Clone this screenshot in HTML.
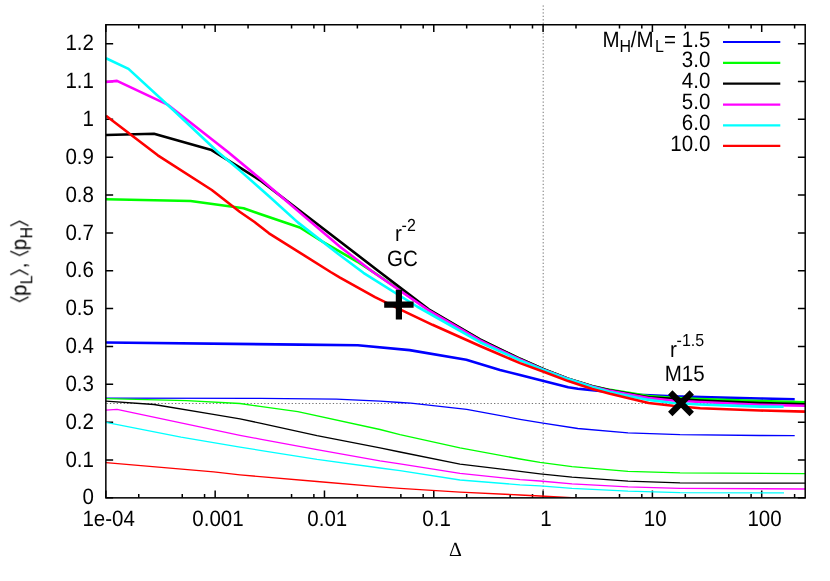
<!DOCTYPE html>
<html><head><meta charset="utf-8"><title>plot</title>
<style>html,body{margin:0;padding:0;background:#fff;overflow:hidden}body{width:830px;height:581px;font-family:"Liberation Sans",sans-serif}</style>
</head><body>
<svg width="830" height="581" viewBox="0 0 830 581" style="display:block;font-family:'Liberation Sans',sans-serif;font-size:20px">
<rect width="830" height="581" fill="#fff"/>
<g stroke="#000" stroke-width="0.9" stroke-opacity="0.62" stroke-dasharray="1.3 2.13" fill="none">
<path d="M543.2 5.43V497.85"/>
<path d="M106.45 403.5H805.20"/>
</g>
<path d="M105.85 497.85h7.3M805.2 497.85h-7.3M105.85 460.00h7.3M805.2 460.00h-7.3M105.85 422.15h7.3M805.2 422.15h-7.3M105.85 384.31h7.3M805.2 384.31h-7.3M105.85 346.46h7.3M805.2 346.46h-7.3M105.85 308.61h7.3M805.2 308.61h-7.3M105.85 270.76h7.3M805.2 270.76h-7.3M105.85 232.91h7.3M805.2 232.91h-7.3M105.85 195.07h7.3M805.2 195.07h-7.3M105.85 157.22h7.3M805.2 157.22h-7.3M105.85 119.37h7.3M805.2 119.37h-7.3M105.85 81.52h7.3M805.2 81.52h-7.3M105.85 43.67h7.3M805.2 43.67h-7.3M105.85 497.85v-7.3M105.85 24.75v7.3M138.76 497.85v-3.8M138.76 24.75v3.8M182.25 497.85v-3.8M182.25 24.75v3.8M204.57 497.85v-3.8M204.57 24.75v3.8M215.16 497.85v-7.3M215.16 24.75v7.3M248.06 497.85v-3.8M248.06 24.75v3.8M291.56 497.85v-3.8M291.56 24.75v3.8M313.87 497.85v-3.8M313.87 24.75v3.8M324.47 497.85v-7.3M324.47 24.75v7.3M357.37 497.85v-3.8M357.37 24.75v3.8M400.87 497.85v-3.8M400.87 24.75v3.8M423.18 497.85v-3.8M423.18 24.75v3.8M433.78 497.85v-7.3M433.78 24.75v7.3M466.68 497.85v-3.8M466.68 24.75v3.8M510.18 497.85v-3.8M510.18 24.75v3.8M532.49 497.85v-3.8M532.49 24.75v3.8M543.08 497.85v-7.3M543.08 24.75v7.3M575.99 497.85v-3.8M575.99 24.75v3.8M619.49 497.85v-3.8M619.49 24.75v3.8M641.80 497.85v-3.8M641.80 24.75v3.8M652.39 497.85v-7.3M652.39 24.75v7.3M685.30 497.85v-3.8M685.30 24.75v3.8M728.80 497.85v-3.8M728.80 24.75v3.8M751.11 497.85v-3.8M751.11 24.75v3.8M761.70 497.85v-7.3M761.70 24.75v7.3M794.61 497.85v-3.8M794.61 24.75v3.8" stroke="#000" stroke-width="1.5" fill="none"/>
<clipPath id="c"><rect x="105.85" y="24.75" width="699.35" height="473.1"/></clipPath>
<g fill="none" stroke-linejoin="round" stroke-linecap="butt" clip-path="url(#c)">
<polyline points="106.0,342.5 300.0,344.6 357.8,345.3 409.6,350.1 466.3,359.8 500.0,369.9 520.0,375.1 543.6,381.0 568.2,387.2 577.8,388.7 594.7,390.4 639.0,394.8 672.7,396.4 760.0,398.5 794.7,399.2" stroke="#0000ff" stroke-width="2.6"/>
<polyline points="106.0,398.1 260.0,398.3 336.4,399.1 380.0,401.2 400.0,402.5 410.8,403.1 466.7,409.3 520.0,419.3 543.0,423.1 577.8,428.5 628.0,432.8 680.0,434.7 760.0,435.5 794.7,435.7" stroke="#0000ff" stroke-width="1.3"/>
<polyline points="106.0,199.2 190.6,201.0 243.6,208.3 260.0,214.0 299.8,227.5 322.9,241.9 357.0,261.5 373.0,271.9 428.7,309.8 480.0,339.6 500.0,349.4 520.0,358.8 543.6,369.2 568.2,378.8 592.3,386.1 610.0,389.9 648.6,396.0 672.7,397.7 700.0,399.0 760.0,401.0 805.2,402.3" stroke="#00ff00" stroke-width="2.6"/>
<polyline points="106.0,398.7 186.7,400.6 240.0,403.5 260.0,406.4 297.8,411.6 380.0,429.5 400.0,434.7 460.0,447.8 520.0,459.0 540.0,462.3 572.0,466.7 628.0,471.3 680.0,472.9 805.2,473.7" stroke="#00ff00" stroke-width="1.3"/>
<polyline points="106.0,135.0 154.0,133.8 211.5,150.1 240.0,167.7 260.0,180.3 309.4,218.0 379.7,272.0 428.7,309.4 480.0,339.3 500.0,349.2 520.0,358.8 543.6,369.2 568.2,378.7 592.3,386.2 610.0,390.2 648.6,397.2 672.7,398.9 700.0,400.5 760.0,403.0 805.2,404.3" stroke="#000000" stroke-width="2.6"/>
<polyline points="106.0,401.2 154.0,404.5 211.8,414.1 240.0,418.9 260.0,423.1 317.0,435.6 380.0,447.8 400.0,452.0 460.0,464.2 520.0,471.3 540.0,473.8 572.0,477.1 628.0,481.1 680.0,482.9 805.2,483.1" stroke="#000000" stroke-width="1.3"/>
<polyline points="106.0,82.0 117.0,80.9 167.5,104.6 228.0,152.0 260.0,178.6 340.0,246.7 373.0,272.0 428.7,310.4 480.0,340.3 500.0,350.1 520.0,359.5 543.6,369.7 568.2,378.9 592.3,386.5 610.0,390.9 648.6,398.1 672.7,400.5 700.0,402.0 760.0,404.8 805.2,405.8" stroke="#ff00ff" stroke-width="2.6"/>
<polyline points="106.0,410.2 117.0,409.3 240.0,435.3 260.0,439.1 317.0,449.7 380.0,460.9 400.0,463.8 460.0,473.3 520.0,479.6 540.0,481.0 572.0,483.8 628.0,486.9 680.0,488.3 805.2,489.0" stroke="#ff00ff" stroke-width="1.3"/>
<polyline points="106.0,58.3 128.5,68.9 173.2,110.0 217.6,151.8 240.0,170.6 269.0,196.2 297.8,222.4 340.0,255.3 363.4,272.8 417.0,306.5 480.0,342.2 500.0,351.4 520.0,360.4 543.6,370.0 568.2,379.1 592.3,386.9 610.0,391.9 648.6,399.9 672.7,403.0 700.0,404.5 760.0,406.6 783.6,406.7" stroke="#00ffff" stroke-width="2.6"/>
<polyline points="106.0,422.4 181.0,437.2 240.0,447.2 260.0,450.3 317.0,459.4 380.0,468.0 400.0,470.6 460.0,480.0 520.0,484.8 540.0,485.8 572.0,488.3 628.0,491.2 680.0,492.7 784.0,492.8" stroke="#00ffff" stroke-width="1.3"/>
<polyline points="106.0,115.8 157.8,155.3 211.8,190.0 240.0,212.0 254.2,221.8 269.0,233.3 330.6,272.0 340.0,277.6 375.0,297.2 400.0,309.3 432.5,324.8 480.0,346.0 494.0,352.0 520.0,363.1 543.6,371.7 568.2,381.1 592.3,389.0 610.0,393.8 648.6,403.0 672.7,405.8 700.2,408.2 760.0,410.5 805.2,411.6" stroke="#ff0000" stroke-width="2.6"/>
<polyline points="106.0,462.6 213.7,471.9 240.0,474.8 260.0,476.6 317.0,481.5 380.0,486.8 400.0,488.3 460.0,492.1 520.0,495.0 540.0,496.0 576.0,497.8" stroke="#ff0000" stroke-width="1.3"/>
</g>
<rect x="105.85" y="24.75" width="699.35" height="473.10" stroke="#000" stroke-width="1.5" fill="none"/>
<g fill="#000" opacity="0.999" style="text-rendering:geometricPrecision;font-size:22.3px">
<text transform="translate(93.90 504.45) scale(0.92 1)" text-anchor="end">0</text>
<text transform="translate(93.90 466.60) scale(0.92 1)" text-anchor="end">0.1</text>
<text transform="translate(93.90 428.75) scale(0.92 1)" text-anchor="end">0.2</text>
<text transform="translate(93.90 390.91) scale(0.92 1)" text-anchor="end">0.3</text>
<text transform="translate(93.90 353.06) scale(0.92 1)" text-anchor="end">0.4</text>
<text transform="translate(93.90 315.21) scale(0.92 1)" text-anchor="end">0.5</text>
<text transform="translate(93.90 277.36) scale(0.92 1)" text-anchor="end">0.6</text>
<text transform="translate(93.90 239.51) scale(0.92 1)" text-anchor="end">0.7</text>
<text transform="translate(93.90 201.67) scale(0.92 1)" text-anchor="end">0.8</text>
<text transform="translate(93.90 163.82) scale(0.92 1)" text-anchor="end">0.9</text>
<text transform="translate(93.90 125.97) scale(0.92 1)" text-anchor="end">1</text>
<text transform="translate(93.90 88.12) scale(0.92 1)" text-anchor="end">1.1</text>
<text transform="translate(93.90 50.27) scale(0.92 1)" text-anchor="end">1.2</text>
<text transform="translate(108.65 525.90) scale(0.92 1)" text-anchor="middle">1e-04</text>
<text transform="translate(217.96 525.90) scale(0.92 1)" text-anchor="middle">0.001</text>
<text transform="translate(327.27 525.90) scale(0.92 1)" text-anchor="middle">0.01</text>
<text transform="translate(436.58 525.90) scale(0.92 1)" text-anchor="middle">0.1</text>
<text transform="translate(545.88 525.90) scale(0.92 1)" text-anchor="middle">1</text>
<text transform="translate(655.19 525.90) scale(0.92 1)" text-anchor="middle">10</text>
<text transform="translate(764.50 525.90) scale(0.92 1)" text-anchor="middle">100</text>
<text x="455.4" y="556.4" text-anchor="middle" style="font-family:'Liberation Serif',serif;font-size:20px">&#916;</text>
<path d="M723 42H780.3" stroke="#0000ff" stroke-width="2.2"/>
<text transform="translate(602.40 46.60) scale(0.92 1)" text-anchor="start">M</text>
<text transform="translate(619.60 52.00) scale(0.92 1)" text-anchor="start" font-size="17.4">H</text>
<text transform="translate(630.80 46.60) scale(0.92 1)" text-anchor="start">/M</text>
<text transform="translate(654.90 52.00) scale(0.92 1)" text-anchor="start" font-size="17.4">L</text>
<text transform="translate(710.30 46.60) scale(0.92 1)" text-anchor="end">= 1.5</text>
<path d="M723 62.8H780.3" stroke="#00ff00" stroke-width="2.2"/>
<text transform="translate(710.30 67.40) scale(0.92 1)" text-anchor="end">3.0</text>
<path d="M723 83.6H780.3" stroke="#000000" stroke-width="2.2"/>
<text transform="translate(710.30 88.20) scale(0.92 1)" text-anchor="end">4.0</text>
<path d="M723 104.6H780.3" stroke="#ff00ff" stroke-width="2.2"/>
<text transform="translate(710.30 109.20) scale(0.92 1)" text-anchor="end">5.0</text>
<path d="M723 125.4H780.3" stroke="#00ffff" stroke-width="2.2"/>
<text transform="translate(710.30 130.00) scale(0.92 1)" text-anchor="end">6.0</text>
<path d="M723 145.9H780.3" stroke="#ff0000" stroke-width="2.2"/>
<text transform="translate(710.30 150.50) scale(0.92 1)" text-anchor="end">10.0</text>
<text transform="translate(395.00 241.20) scale(0.92 1)" text-anchor="start">r</text>
<text transform="translate(401.60 230.50) scale(0.92 1)" text-anchor="start" font-size="17.4">-2</text>
<text transform="translate(402.50 265.70) scale(0.92 1)" text-anchor="middle">GC</text>
<text transform="translate(670.00 357.00) scale(0.92 1)" text-anchor="start">r</text>
<text transform="translate(676.60 346.30) scale(0.92 1)" text-anchor="start" font-size="17.4">-1.5</text>
<text transform="translate(684.70 380.70) scale(0.92 1)" text-anchor="middle">M15</text>
<path d="M384.2 304.6H413.6M398.9 289.8V319.4" stroke="#000" stroke-width="6.2" fill="none"/>
<path d="M670.25 392.45L691.75 413.95M670.25 413.95L691.75 392.45" stroke="#000" stroke-width="6.2" fill="none"/>
<g transform="translate(25.3,303.3) rotate(-90)">
<path d="M6.3 -15.0L1.8 -5.85L6.3 3.3" stroke="#000" stroke-width="1.3" fill="none"/>
<text transform="translate(7.3 0.7) scale(0.96 1)" font-size="21.4">p</text>
<text transform="translate(19.1 6.8) scale(0.92 1)" font-size="17.4">L</text>
<path d="M28.5 -15.0L33.3 -5.85L28.5 3.3" stroke="#000" stroke-width="1.3" fill="none"/>
<text x="35.0" y="0.6" font-size="20.6">,</text>
<path d="M52.1 -15.0L47.9 -5.85L52.1 3.3" stroke="#000" stroke-width="1.3" fill="none"/>
<text transform="translate(52.9 0.7) scale(0.96 1)" font-size="21.4">p</text>
<text transform="translate(64.8 6.8) scale(0.92 1)" font-size="17.4">H</text>
<path d="M77.5 -15.0L82.1 -5.85L77.5 3.3" stroke="#000" stroke-width="1.3" fill="none"/>
</g>
</g>
</svg>
</body></html>
